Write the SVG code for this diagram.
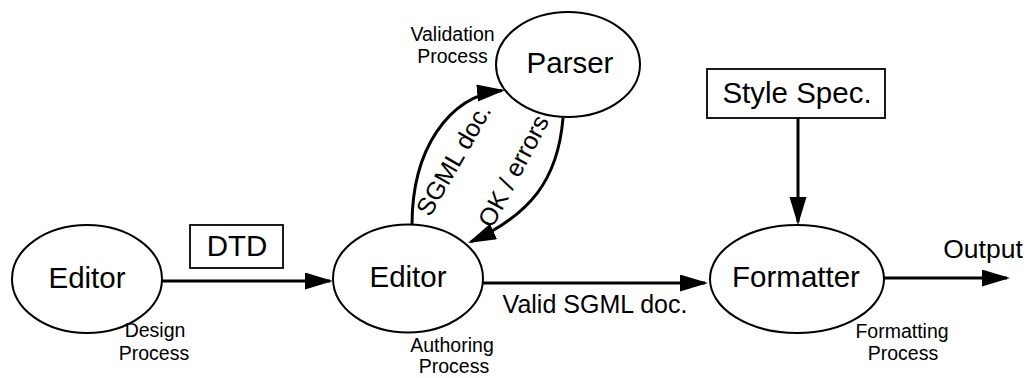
<svg xmlns="http://www.w3.org/2000/svg" width="1035" height="378" viewBox="0 0 1035 378">
  <style>
    .node { fill: #ffffff; stroke: #000000; stroke-width: 2; }
    .box { fill: #ffffff; stroke: #000000; stroke-width: 1.8; }
    .big { font-family: "Liberation Sans", Arial, sans-serif; font-size: 29.5px; fill: #000000; text-anchor: middle; }
    .mid { font-family: "Liberation Sans", Arial, sans-serif; font-size: 25px; fill: #000000; text-anchor: middle; }
    .small { font-family: "Liberation Sans", Arial, sans-serif; font-size: 19.5px; fill: #000000; text-anchor: middle; }
    .edge { fill: none; stroke: #000000; stroke-width: 3; marker-end: url(#head); }
  </style>
  <defs>
    <marker id="head" markerUnits="userSpaceOnUse" markerWidth="28" markerHeight="18" refX="25" refY="8.5" orient="auto">
      <path d="M0,0 L28,8.5 L0,17 Z" fill="#000000"/>
    </marker>
  </defs>
  <rect width="1035" height="378" fill="#ffffff"/>

  <!-- connectors -->
  <g id="connectors">
    <line class="edge" x1="162" y1="281" x2="330" y2="281"/>
    <line class="edge" x1="483" y1="283" x2="705" y2="283"/>
    <line class="edge" x1="798" y1="118" x2="798" y2="222"/>
    <line class="edge" x1="883" y1="278" x2="1007" y2="278"/>
    <path class="edge" d="M412,225 C412,150 448,96 502,90.5"/>
    <path class="edge" d="M563,118 C558,180 530,215 470.8,241.8"/>
    <text class="mid" transform="translate(461,164) rotate(-60)">SGML doc.</text>
    <text class="mid" transform="translate(521,175) rotate(-62)">OK / errors</text>
    <text class="mid" x="595" y="313">Valid SGML doc.</text>
    <text class="mid" x="983" y="258" style="font-size:26.5px">Output</text>
  </g>

  <!-- design editor -->
  <g id="design-editor">
    <ellipse class="node" cx="87" cy="279" rx="75" ry="54"/>
    <text class="big" x="87" y="288">Editor</text>
    <text class="small" x="155" y="337">Design</text>
    <text class="small" x="154" y="360">Process</text>
  </g>

  <!-- DTD document -->
  <g id="dtd">
    <rect class="box" x="190" y="225" width="93" height="43"/>
    <text class="big" x="237" y="256">DTD</text>
  </g>

  <!-- authoring editor -->
  <g id="authoring-editor">
    <ellipse class="node" cx="408" cy="278.5" rx="75" ry="54"/>
    <text class="big" x="408" y="287">Editor</text>
    <text class="small" x="452" y="352">Authoring</text>
    <text class="small" x="454" y="373">Process</text>
  </g>

  <!-- parser -->
  <g id="parser">
    <ellipse class="node" cx="568" cy="64.5" rx="72" ry="52.5"/>
    <text class="big" x="570" y="73">Parser</text>
    <text class="small" x="452.5" y="41">Validation</text>
    <text class="small" x="452.5" y="63">Process</text>
  </g>

  <!-- style specification -->
  <g id="style-spec">
    <rect class="box" x="707" y="69" width="178" height="49"/>
    <text class="big" x="797" y="103">Style Spec.</text>
  </g>

  <!-- formatter -->
  <g id="formatter">
    <ellipse class="node" cx="797" cy="279" rx="87" ry="54"/>
    <text class="big" x="796" y="287">Formatter</text>
    <text class="small" x="902" y="338">Formatting</text>
    <text class="small" x="903" y="360">Process</text>
  </g>
</svg>
